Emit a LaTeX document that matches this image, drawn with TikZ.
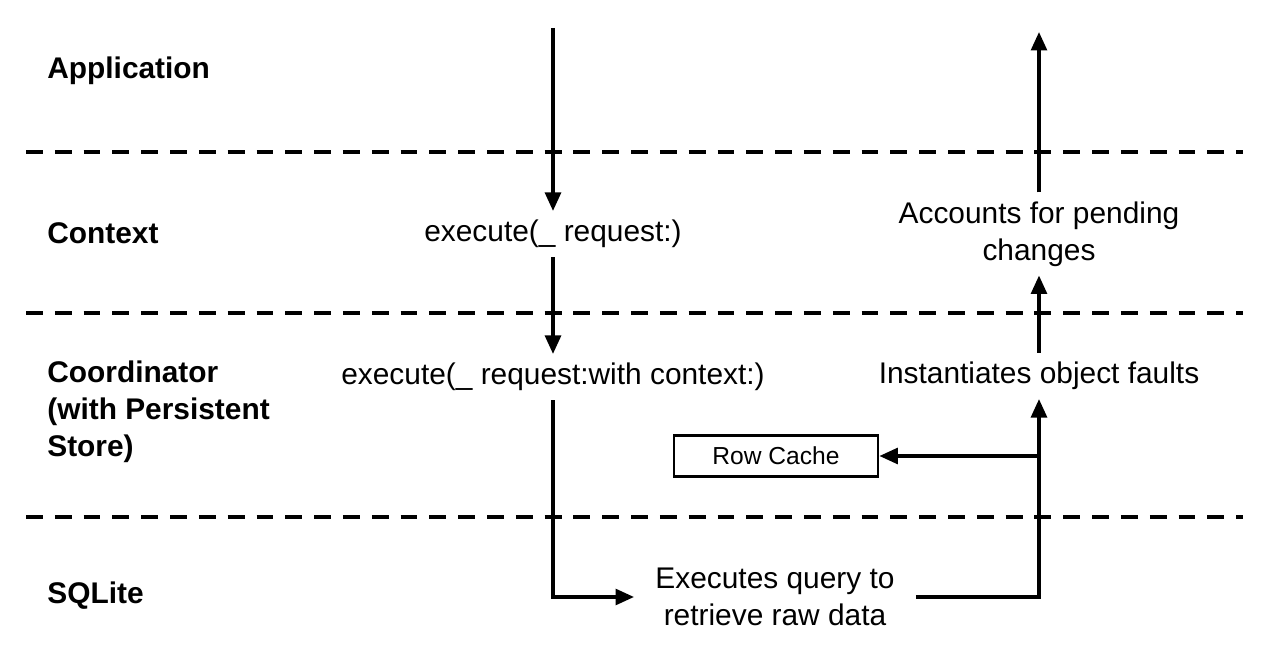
\documentclass[tikz,border=0pt]{standalone}
\usepackage{fontspec}
\setmainfont{Liberation Sans}
\usetikzlibrary{arrows.meta,positioning}

\begin{document}
\begin{tikzpicture}[x=0.02cm, y=-0.02cm,
  layer/.style={anchor=west, align=left, inner sep=0pt, font=\fontsize{17}{21}\selectfont\bfseries},
  calltext/.style={align=center, inner xsep=3pt, inner ysep=5pt, font=\fontsize{17}{21}\selectfont},
  divider/.style={line width=1.9pt, dash pattern=on 9.6pt off 6.8pt},
  flow/.style={line width=1.9pt, -{Triangle[length=10.5pt,width=9pt]}},
  cachebox/.style={draw, line width=1.6pt, minimum width=4.08cm, minimum height=0.82cm, inner sep=0pt, font=\fontsize{14}{17}\selectfont}
]
  \useasboundingbox (0,0) rectangle (1268,668);

  % Layer boundaries
  \foreach \y in {152,313,517}
    \draw[divider] (26,\y) -- (1243,\y);

  % Layer names
  \node[layer] (app) at (47,71) {Application};
  \node[layer] (ctx) at (47,233) {Context};
  \node[layer] (coord) at (47,412) {Coordinator\\(with Persistent\\Store)};
  \node[layer] (sqlite) at (47,596) {SQLite};

  % Request path
  \coordinate (request) at (553,28);
  \node[calltext] (exec) at (553,234) {execute(\_ request:)};
  \node[calltext] (execctx) at (553,377) {execute(\_ request:with context:)};
  \node[calltext, inner xsep=12pt] (query) at (775,597) {Executes query to\\retrieve raw data};

  % Result path
  \node[calltext] (faults) at (1039,376) {Instantiates object faults};
  \node[calltext] (pending) at (1039,234) {Accounts for pending\\changes};
  \coordinate (result) at (1039,32);
  \coordinate (split) at (1039,456);
  \node[cachebox] (cache) at (776,456) {Row Cache};

  \draw[flow] (request) -- (exec);
  \draw[flow] (exec) -- (execctx);
  \draw[flow] (execctx) |- (query);
  \draw[flow] (query) -| (faults);
  \draw[flow] (split) -- (cache);
  \draw[flow] (faults) -- (pending);
  \draw[flow] (pending) -- (result);
\end{tikzpicture}
\end{document}
